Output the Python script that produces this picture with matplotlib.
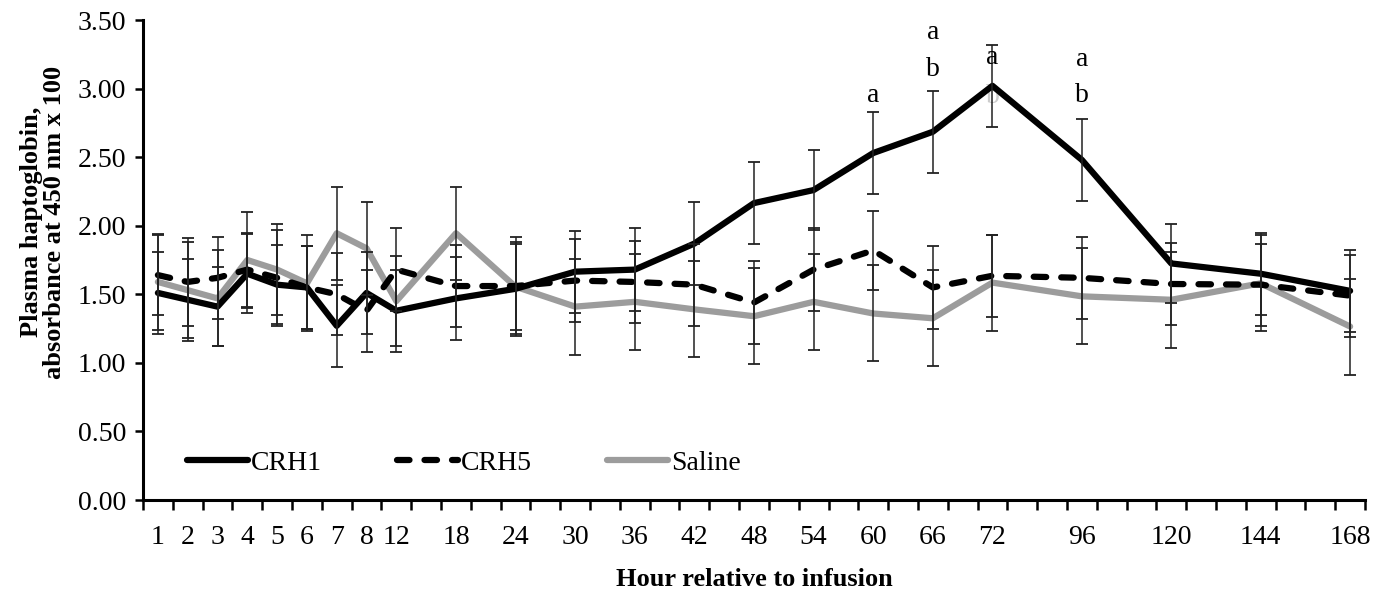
import matplotlib
matplotlib.use('Agg')
import matplotlib.pyplot as plt
import numpy as np

plt.rcParams['font.family'] = ['Liberation Serif', 'DejaVu Serif']

# sampling hours (category axis with blank slots between the labelled hours)
hours = [1, 2, 3, 4, 5, 6, 7, 8, 12, 18, 24, 30, 36, 42, 48, 54, 60, 66, 72, 96, 120, 144, 168]
categories = ['1', '2', '3', '4', '5', '6', '7', '8', '12', '', '18', '', '24', '', '30', '',
              '36', '', '42', '', '48', '', '54', '', '60', '', '66', '', '72', '', '',
              '96', '', '', '120', '', '', '144', '', '', '168']

crh1 = [1.51, 1.46, 1.41, 1.65, 1.57, 1.55, 1.27, 1.51, 1.38, 1.47, 1.54, 1.665, 1.68,
        1.87, 2.165, 2.26, 2.53, 2.685, 3.02, 2.48, 1.725, 1.65, 1.525]
crh5 = [1.64, 1.59, 1.62, 1.68, 1.62, 1.55, 1.50, 1.38, 1.68, 1.56, 1.56, 1.60, 1.59,
        1.57, 1.44, 1.68, 1.82, 1.55, 1.635, 1.62, 1.575, 1.57, 1.49]
saline = [1.59, 1.53, 1.47, 1.75, 1.68, 1.58, 1.945, 1.835, 1.45, 1.945, 1.555, 1.41, 1.445,
          1.39, 1.34, 1.445, 1.36, 1.325, 1.585, 1.485, 1.46, 1.58, 1.265]

crh1_se = [0.30, 0.30, 0.29, 0.29, 0.29, 0.30, 0.30, 0.30, 0.30, 0.30, 0.33, 0.30, 0.30,
           0.30, 0.30, 0.29, 0.30, 0.30, 0.30, 0.30, 0.29, 0.30, 0.30]
crh5_se = [0.29, 0.32, 0.30, 0.27, 0.35, 0.30, 0.30, 0.30, 0.30, 0.30, 0.32, 0.30, 0.30,
           0.30, 0.30, 0.30, 0.29, 0.30, 0.30, 0.30, 0.30, 0.30, 0.30]
saline_se = [0.35, 0.35, 0.35, 0.35, 0.33, 0.35, 0.34, 0.34, 0.33, 0.34, 0.36, 0.35, 0.35,
             0.35, 0.35, 0.35, 0.35, 0.35, 0.35, 0.35, 0.35, 0.35, 0.35]

# significance letters: (hour, letter, height)
letters = [(60, 'a', 2.95), (66, 'a', 3.41), (66, 'b', 3.14), (72, 'a', 3.23),
           (72, 'b', 2.94), (96, 'a', 3.21), (96, 'b', 2.95)]

x = [categories.index(str(h)) for h in hours]

fig = plt.figure(figsize=(13.82, 5.96), dpi=100)
ax = fig.add_axes([143 / 1382, 96 / 596, 1222 / 1382, 480 / 596])

l1, = ax.plot(x, crh1, color='black', lw=4.5, solid_capstyle='round', zorder=3, label='CRH1')
l2, = ax.plot(x, crh5, color='black', lw=4.5, dashes=(2.0, 2.4), dash_capstyle='round',
              zorder=3, label='CRH5')
l3, = ax.plot(x, saline, color='#9c9c9c', lw=4.5, solid_capstyle='round', zorder=2,
              label='Saline')

for vals, se in [(crh1, crh1_se), (crh5, crh5_se), (saline, saline_se)]:
    ax.errorbar(x, vals, yerr=se, fmt='none', ecolor='#222222', elinewidth=1.1,
                capsize=4, capthick=1.3, zorder=4)

for h, txt, yv in letters:
    col = '#cccccc' if (h == 72 and txt == 'b') else 'black'
    zo = 1 if col != 'black' else 5
    ax.text(categories.index(str(h)), yv, txt, ha='center', va='center', fontsize=20,
            color=col, zorder=zo)

ax.set_xlim(-0.5, len(categories) - 0.5)
ax.set_ylim(0, 3.5)

for side in ['top', 'right']:
    ax.spines[side].set_visible(False)
for side in ['left', 'bottom']:
    ax.spines[side].set_linewidth(2.2)

ax.set_yticks(np.arange(0, 3.51, 0.5))
ax.set_yticklabels(['{0:.2f}'.format(v) for v in np.arange(0, 3.51, 0.5)])
ax.tick_params(axis='y', direction='out', length=6, width=1.8, labelsize=20, pad=6)

ax.set_xticks(np.arange(-0.5, len(categories), 1.0))
ax.set_xticklabels([])
ax.set_xticks(x, minor=True)
ax.set_xticklabels([str(h) for h in hours], minor=True)
ax.tick_params(axis='x', which='major', direction='out', length=7, width=1.8)
ax.tick_params(axis='x', which='minor', length=0, labelsize=20, pad=18)

fig.text(754 / 1382, 1 - 580 / 596, 'Hour relative to infusion', ha='center', va='center',
         fontsize=19, fontweight='bold')
fig.text(43 / 1382, 1 - 222 / 596, 'Plasma haptoglobin,\nabsorbance at 450 nm x 100',
         ha='center', va='center', rotation=90, fontsize=19, fontweight='bold',
         linespacing=1.0)

fig.legend(handles=[l1, l2, l3], loc='center left', bbox_to_anchor=(187 / 1382, 1 - 463 / 596),
           ncol=3, frameon=False, fontsize=20, handlelength=2.2, handletextpad=0.1,
           columnspacing=2.7, borderpad=0, borderaxespad=0)

fig.savefig('out.png', dpi=100)
